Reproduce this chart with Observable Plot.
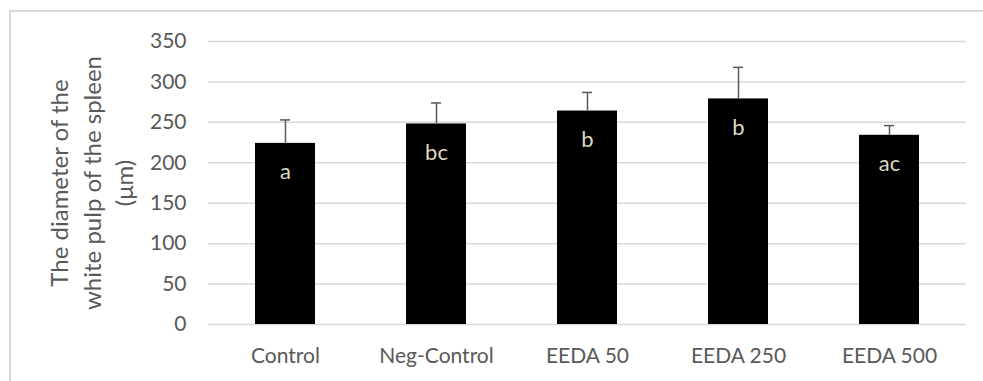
<!DOCTYPE html>
<html>
<head>
<meta charset="utf-8">
<script src="https://cdn.jsdelivr.net/npm/d3@7"></script>
<script src="https://cdn.jsdelivr.net/npm/@observablehq/plot@0.6"></script>
<style>
  html, body { margin: 0; padding: 0; background: #fff; overflow: hidden; width: 983px; height: 381px; }
  #border { position: absolute; left: 9px; top: 10px; width: 1100px; height: 500px; border: 2px solid #d9d9d9; box-sizing: border-box; }
  #chart { position: absolute; left: 0; top: 0; }
  #chart svg { display: block; }
</style>
</head>
<body>
<div id="border"></div>
<div id="chart"></div>
<script>
const categories = ["Control", "Neg-Control", "EEDA 50", "EEDA 250", "EEDA 500"];
const means = [224, 248, 264, 279, 234];
const sds = [29, 26, 23, 39, 12];
const letters = ["a", "bc", "b", "b", "ac"];
const yTicks = [0, 50, 100, 150, 200, 250, 300, 350];
const yTitle = "The diameter of the\nwhite pulp of the spleen\n(μm)";

const data = categories.map((c, i) => ({
  cat: c, mean: means[i], upper: means[i] + sds[i], letter: letters[i]
}));

const font = "Lato, 'Open Sans', sans-serif";

const chart = Plot.plot({
  width: 983,
  height: 381,
  marginLeft: 208,
  marginRight: 17,
  marginTop: 41,
  marginBottom: 57,
  style: { fontFamily: font, fontSize: "21px", color: "#595959", background: "transparent" },
  x: { domain: categories, paddingInner: 0.604, paddingOuter: 0.302, label: null, tickSize: 0, tickPadding: 24 },
  y: { domain: [0, 350], ticks: yTicks, label: null, tickSize: 0, tickPadding: 22 },
  marks: [
    Plot.ruleY(yTicks, { stroke: "#d9d9d9", strokeWidth: 1.5 }),
    Plot.barY(data, { x: "cat", y: "mean", fill: "#000" }),
    Plot.ruleX(data, { x: "cat", y1: "mean", y2: "upper", stroke: "#595959", strokeWidth: 1.5 }),
    Plot.tickY(data, { x: "cat", y: "upper", stroke: "#595959", strokeWidth: 1.5, insetLeft: 25, insetRight: 25 }),
    Plot.text(data, { x: "cat", y: "mean", text: "letter", dy: 29, fill: "#ddd9c3", fontSize: 22 }),
    Plot.text([yTitle], { frameAnchor: "left", textAnchor: "middle", lineAnchor: "middle", dx: -118, rotate: -90, fontSize: 24, lineHeight: 1.35, fill: "#595959", text: d => d })
  ]
});
document.getElementById("chart").appendChild(chart);
</script>
</body>
</html>
